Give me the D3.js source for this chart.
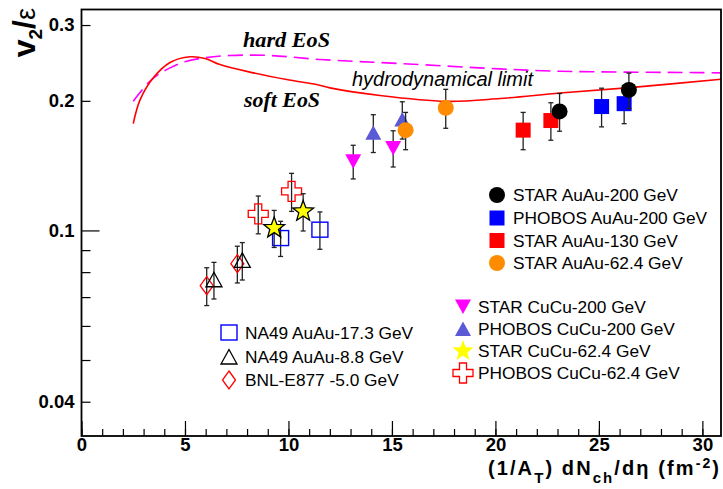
<!DOCTYPE html>
<html><head><meta charset="utf-8">
<script src="https://cdn.jsdelivr.net/npm/d3@7"></script>
<style>body{margin:0;background:#fff}svg{display:block}</style>
</head><body>
<svg id="c" width="723" height="489"></svg>
<script>
// ---- data ----
const starAuAu200X = [23.1, 26.45], starAuAu200Y = [0.189, 0.212], starAuAu200E = [0.019, 0.020];
const phobosAuAu200X = [25.13, 26.22], phobosAuAu200Y = [0.194, 0.197], phobosAuAu200E = [0.020, 0.020];
const starAuAu130X = [21.34, 22.68], starAuAu130Y = [0.171, 0.180], starAuAu130E = [0.017, 0.018];
const starAuAu62X = [15.66, 17.6], starAuAu62Y = [0.171, 0.1927], starAuAu62E = [0.017, 0.020];
const starCuCu200X = [13.13, 15.06], starCuCu200Y = [0.1447, 0.1554], starCuCu200E = [0.013, 0.015];
const phobosCuCu200X = [14.1, 15.5], phobosCuCu200Y = [0.1687, 0.181], phobosCuCu200E = [0.017, 0.018];
const starCuCu62X = [9.31, 10.71], starCuCu62Y = [0.1013, 0.1107], starCuCu62E = [0.010, 0.011];
const phobosCuCu62X = [8.54, 10.15], phobosCuCu62Y = [0.1092, 0.1232], phobosCuCu62E = [0.011, 0.0125];
const na49_173X = [9.62, 11.52], na49_173Y = [0.096, 0.1004], na49_173E = [0.009, 0.010];
const na49_88X = [6.4, 7.77], na49_88Y = [0.0768, 0.0852], na49_88E = [0.0075, 0.0085];
const e877X = [6.05, 7.53], e877Y = [0.0744, 0.0837], e877E = [0.0075, 0.0082];

const softX = [2.5, 2.83, 3.47, 4.28, 5.24, 5.97, 6.69, 8.3, 9.91, 11.36, 12.0, 14.42, 17.64, 20.22, 23.12, 26.5, 30.9];
const softY = [0.177, 0.201, 0.2262, 0.2455, 0.2531, 0.2508, 0.2428, 0.2323, 0.2241, 0.2182, 0.2144, 0.2058, 0.1995, 0.2025, 0.2085, 0.2147, 0.2245];
const hardX = [2.5, 3.39, 4.28, 5.08, 5.97, 7.17, 9.11, 11.52, 15.39, 20.22, 23.12, 29.88, 30.9];
const hardY = [0.1995, 0.2241, 0.2386, 0.2472, 0.2518, 0.2549, 0.2549, 0.2495, 0.2442, 0.2373, 0.2343, 0.2326, 0.2323];

const xMajorTicks = [0, 5, 10, 15, 20, 25, 30];
const yLabelTicks = [0.04, 0.1, 0.2, 0.3];
const yMinorTicks = [0.05, 0.06, 0.07, 0.08, 0.09];

const legendRight = ["STAR AuAu-200 GeV", "PHOBOS AuAu-200 GeV", "STAR AuAu-130 GeV", "STAR AuAu-62.4 GeV"];
const legendMid = ["STAR CuCu-200 GeV", "PHOBOS CuCu-200 GeV", "STAR CuCu-62.4 GeV", "PHOBOS CuCu-62.4 GeV"];
const legendLeft = ["NA49 AuAu-17.3 GeV", "NA49 AuAu-8.8 GeV", "BNL-E877 -5.0 GeV"];

// ---- setup ----
const svg = d3.select("#c");
const L = 81.5, R = 721, T = 9.5, B = 436;
const x = d3.scaleLinear().domain([0, 30.9]).range([L, R]);
const y = d3.scaleLog().domain([0.0333, 0.326]).range([B, T]);
const FONT = "'Liberation Sans', Arial, Helvetica, sans-serif";
const SERIF = "'Liberation Serif', 'Times New Roman', serif";

// curves
const line = d3.line().x(d => x(d[0])).y(d => y(d[1])).curve(d3.curveCatmullRom.alpha(0.5));
svg.append("path").datum(d3.zip(hardX, hardY)).attr("d", line)
  .attr("fill", "none").attr("stroke", "#ff00ff").attr("stroke-width", 1.6).attr("stroke-dasharray", "15,7");
svg.append("path").datum(d3.zip(softX, softY)).attr("d", line)
  .attr("fill", "none").attr("stroke", "#ff0000").attr("stroke-width", 1.6);

// axes
const gx = svg.append("g").attr("transform", `translate(0,${B})`);
gx.call(d3.axisBottom(x).tickValues(d3.range(0, 31, 1)).tickSizeInner(-7).tickSizeOuter(0).tickFormat(""));
const gx2 = svg.append("g").attr("transform", `translate(0,${B})`);
gx2.call(d3.axisBottom(x).tickValues(xMajorTicks).tickSizeInner(-15).tickSizeOuter(0).tickPadding(1).tickFormat(d3.format("d")));
const gy = svg.append("g").attr("transform", `translate(${L},0)`);
gy.call(d3.axisLeft(y).tickValues(yMinorTicks).tickSizeInner(-9).tickSizeOuter(0).tickFormat(""));
const gy2 = svg.append("g").attr("transform", `translate(${L},0)`);
gy2.call(d3.axisLeft(y).tickValues(yLabelTicks).tickSizeInner(-9).tickSizeOuter(0).tickPadding(7).tickFormat(d => String(d)));
gy2.selectAll(".tick line").filter(d => d === 0.1).attr("x2", 18);
[gx, gx2, gy, gy2].forEach(g => {
  g.select(".domain").remove();
  g.selectAll(".tick line").attr("stroke", "#000").attr("stroke-width", 1.2);
  g.selectAll("text").attr("font-family", FONT).attr("font-weight", "bold").attr("font-size", 18.5).attr("fill", "#000");
});
gx2.selectAll("text").attr("dy", "0.75em");
// frame
svg.append("rect").attr("x", L).attr("y", T).attr("width", R - L).attr("height", B - T)
  .attr("fill", "none").attr("stroke", "#000").attr("stroke-width", 1.8);

// markers
function sym(g, type, cx, cy, fill, stroke) {
  let p;
  if (type === "circle") { g.append("circle").attr("cx", cx).attr("cy", cy).attr("r", 8).attr("fill", fill).attr("stroke", stroke || "none"); return; }
  if (type === "square") { g.append("rect").attr("x", cx - 7.5).attr("y", cy - 7.5).attr("width", 15).attr("height", 15).attr("fill", fill).attr("stroke", stroke || "none").attr("stroke-width", 1.5); return; }
  if (type === "osquare") { g.append("rect").attr("x", cx - 8).attr("y", cy - 7.5).attr("width", 16).attr("height", 15).attr("fill", "none").attr("stroke", stroke).attr("stroke-width", 1.4); return; }
  if (type === "tup") p = [[-8, 7], [8, 7], [0, -7.5]];
  if (type === "tdown") p = [[-8, -7], [8, -7], [0, 7.5]];
  if (type === "diamond") p = [[0, -9], [6.5, 0], [0, 9], [-6.5, 0]];
  if (type === "cross") { const a = 10, b = 3.5; p = [[-b, -a], [b, -a], [b, -b], [a, -b], [a, b], [b, b], [b, a], [-b, a], [-b, b], [-a, b], [-a, -b], [-b, -b]]; }
  if (type === "star") { p = []; for (let i = 0; i < 10; i++) { const r = i % 2 ? 4.6 : 11; const an = -Math.PI / 2 + i * Math.PI / 5; p.push([r * Math.cos(an), r * Math.sin(an)]); } }
  g.append("path").attr("d", "M" + p.map(q => [cx + q[0], cy + q[1]].join(",")).join("L") + "Z")
    .attr("fill", fill).attr("stroke", stroke || "none").attr("stroke-width", 1.3).attr("stroke-linejoin", "miter");
}

const series = [
  { X: e877X, Y: e877Y, E: e877E, t: "diamond", f: "none", s: "#ff0000" },
  { X: na49_88X, Y: na49_88Y, E: na49_88E, t: "tup", f: "none", s: "#000" },
  { X: na49_173X, Y: na49_173Y, E: na49_173E, t: "osquare", f: "none", s: "#0000ff" },
  { X: phobosCuCu62X, Y: phobosCuCu62Y, E: phobosCuCu62E, t: "cross", f: "none", s: "#ff0000" },
  { X: starCuCu62X, Y: starCuCu62Y, E: starCuCu62E, t: "star", f: "#ffff00", s: "#000" },
  { X: starCuCu200X, Y: starCuCu200Y, E: starCuCu200E, t: "tdown", f: "#ff00ff" },
  { X: phobosCuCu200X, Y: phobosCuCu200Y, E: phobosCuCu200E, t: "tup", f: "#5a5ad6" },
  { X: starAuAu62X, Y: starAuAu62Y, E: starAuAu62E, t: "circle", f: "#ff8c00" },
  { X: starAuAu130X, Y: starAuAu130Y, E: starAuAu130E, t: "square", f: "#ff0000" },
  { X: phobosAuAu200X, Y: phobosAuAu200Y, E: phobosAuAu200E, t: "square", f: "#0000ff" },
  { X: starAuAu200X, Y: starAuAu200Y, E: starAuAu200E, t: "circle", f: "#000" }
];
const gp = svg.append("g");
series.forEach(s => {
  s.X.forEach((xv, i) => {
    const cx = x(xv), y1 = y(s.Y[i] - s.E[i]), y2 = y(s.Y[i] + s.E[i]);
    const eb = gp.append("g").attr("stroke", "#222").attr("stroke-width", 1.3);
    eb.append("line").attr("x1", cx).attr("x2", cx).attr("y1", y1).attr("y2", y2);
    eb.append("line").attr("x1", cx - 2.5).attr("x2", cx + 2.5).attr("y1", y1).attr("y2", y1);
    eb.append("line").attr("x1", cx - 2.5).attr("x2", cx + 2.5).attr("y1", y2).attr("y2", y2);
  });
  s.X.forEach((xv, i) => sym(gp, s.t, x(xv), y(s.Y[i]), s.f, s.s));
});

// legends
function legend(items, mx, tx, ys, types) {
  const g = svg.append("g");
  items.forEach((lab, i) => {
    sym(g, types[i].t, mx, ys[i], types[i].f, types[i].s);
    g.append("text").attr("x", tx).attr("y", ys[i]).attr("dy", "0.36em").text(lab)
      .attr("font-family", FONT).attr("font-size", 17.3).attr("fill", "#000");
  });
}
legend(legendRight, 497, 513, [195, 218, 240.5, 263],
  [{ t: "circle", f: "#000" }, { t: "square", f: "#0000ff" }, { t: "square", f: "#ff0000" }, { t: "circle", f: "#ff8c00" }]);
legend(legendMid, 463, 478, [306.5, 329, 351, 373],
  [{ t: "tdown", f: "#ff00ff" }, { t: "tup", f: "#5a5ad6" }, { t: "star", f: "#ffff00" }, { t: "cross", f: "none", s: "#ff0000" }]);
legend(legendLeft, 229, 245, [332.5, 357, 380],
  [{ t: "osquare", f: "none", s: "#0000ff" }, { t: "tup", f: "none", s: "#000" }, { t: "diamond", f: "none", s: "#ff0000" }]);

// annotations
svg.append("text").attr("x", 243).attr("y", 47).text("hard EoS")
  .attr("font-family", SERIF).attr("font-weight", "bold").attr("font-style", "italic").attr("font-size", 20.5)
  .attr("textLength", 87).attr("lengthAdjust", "spacingAndGlyphs");
svg.append("text").attr("x", 244).attr("y", 107).text("soft EoS")
  .attr("font-family", SERIF).attr("font-weight", "bold").attr("font-style", "italic").attr("font-size", 20.5)
  .attr("textLength", 76).attr("lengthAdjust", "spacingAndGlyphs");
svg.append("text").attr("x", 352).attr("y", 86).text("hydrodynamical limit")
  .attr("font-family", FONT).attr("font-style", "italic").attr("font-size", 20)
  .attr("textLength", 181).attr("lengthAdjust", "spacingAndGlyphs");

// axis titles
const xt = svg.append("text").attr("x", 488).attr("y", 475)
  .attr("font-family", FONT).attr("font-weight", "bold").attr("font-size", 20)
  .attr("textLength", 231).attr("lengthAdjust", "spacing");
xt.append("tspan").text("(1/A");
xt.append("tspan").text("T").attr("font-size", 15).attr("dy", 8);
xt.append("tspan").text(") dN").attr("dy", -8);
xt.append("tspan").text("ch").attr("font-size", 15).attr("dy", 8);
xt.append("tspan").text("/dη (fm").attr("dy", -8);
xt.append("tspan").text("-2").attr("font-size", 14).attr("dy", -7);
xt.append("tspan").text(")").attr("dy", 7);

const yt = svg.append("text").attr("transform", "translate(35,8) rotate(-90)").attr("text-anchor", "end")
  .attr("font-family", FONT).attr("font-weight", "bold").attr("font-size", 32);
yt.append("tspan").text("v");
yt.append("tspan").text("2").attr("font-size", 19).attr("dy", 7);
yt.append("tspan").text("/").attr("dy", -7);
yt.append("tspan").text("ε").attr("font-weight", "normal").attr("font-size", 27);
</script>
</body></html>
